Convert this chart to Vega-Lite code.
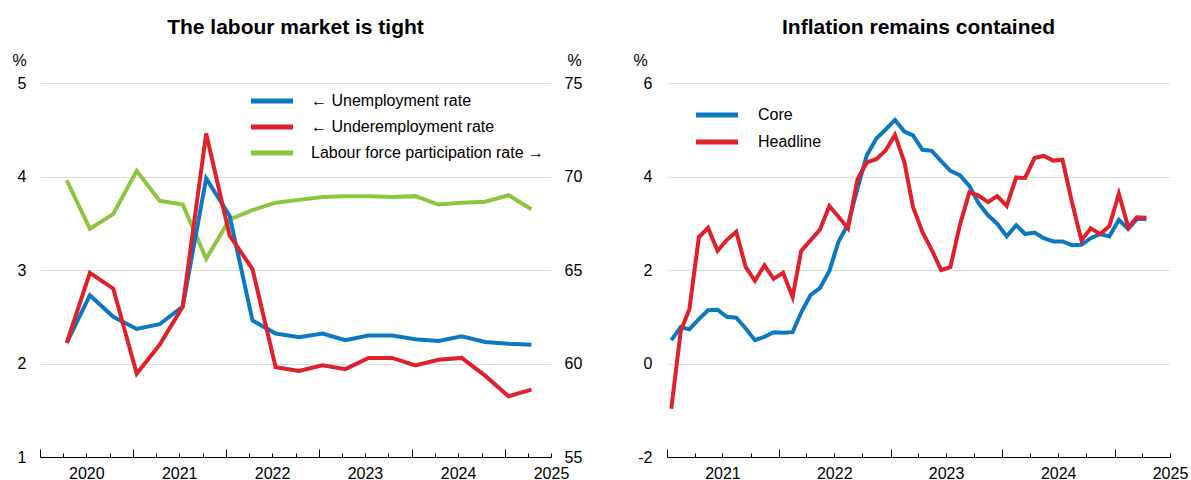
{
  "$schema": "https://vega.github.io/schema/vega-lite/v6.json",
  "background": "white",
  "padding": {"left": 11, "top": 17, "right": 0, "bottom": 0},
  "config": {
    "view": {"stroke": null},
    "font": "Liberation Sans",
    "axis": {"labelFont": "Liberation Sans", "labelFontSize": 16, "labelColor": "black", "titleFont": "Liberation Sans", "titleFontSize": 16, "titleFontWeight": "normal", "titleColor": "black"},
    "title": {"font": "Liberation Sans", "fontSize": 21, "fontWeight": "bold", "color": "black", "anchor": "middle", "offset": 14},
    "legend": {"labelFont": "Liberation Sans", "labelFontSize": 16, "labelColor": "black", "labelLimit": 500, "padding": 0, "symbolType": "M-4.2,0L4.2,0", "symbolSize": 100, "symbolStrokeWidth": 5, "title": null}
  },
  "datasets": {
    "labour": [
      {"date": "2020-04-15", "series": "← Unemployment rate", "value": 2.22},
      {"date": "2020-07-15", "series": "← Unemployment rate", "value": 2.73},
      {"date": "2020-10-15", "series": "← Unemployment rate", "value": 2.50},
      {"date": "2021-01-15", "series": "← Unemployment rate", "value": 2.37},
      {"date": "2021-04-15", "series": "← Unemployment rate", "value": 2.42},
      {"date": "2021-07-15", "series": "← Unemployment rate", "value": 2.61},
      {"date": "2021-10-15", "series": "← Unemployment rate", "value": 3.98},
      {"date": "2022-01-15", "series": "← Unemployment rate", "value": 3.58},
      {"date": "2022-04-15", "series": "← Unemployment rate", "value": 2.46},
      {"date": "2022-07-15", "series": "← Unemployment rate", "value": 2.32},
      {"date": "2022-10-15", "series": "← Unemployment rate", "value": 2.28},
      {"date": "2023-01-15", "series": "← Unemployment rate", "value": 2.32},
      {"date": "2023-04-15", "series": "← Unemployment rate", "value": 2.25},
      {"date": "2023-07-15", "series": "← Unemployment rate", "value": 2.30},
      {"date": "2023-10-15", "series": "← Unemployment rate", "value": 2.30},
      {"date": "2024-01-15", "series": "← Unemployment rate", "value": 2.26},
      {"date": "2024-04-15", "series": "← Unemployment rate", "value": 2.24},
      {"date": "2024-07-15", "series": "← Unemployment rate", "value": 2.29},
      {"date": "2024-10-15", "series": "← Unemployment rate", "value": 2.23},
      {"date": "2025-01-15", "series": "← Unemployment rate", "value": 2.21},
      {"date": "2025-04-15", "series": "← Unemployment rate", "value": 2.20},
      {"date": "2020-04-15", "series": "← Underemployment rate", "value": 2.22},
      {"date": "2020-07-15", "series": "← Underemployment rate", "value": 2.97},
      {"date": "2020-10-15", "series": "← Underemployment rate", "value": 2.80},
      {"date": "2021-01-15", "series": "← Underemployment rate", "value": 1.89},
      {"date": "2021-04-15", "series": "← Underemployment rate", "value": 2.20},
      {"date": "2021-07-15", "series": "← Underemployment rate", "value": 2.61},
      {"date": "2021-10-15", "series": "← Underemployment rate", "value": 4.46},
      {"date": "2022-01-15", "series": "← Underemployment rate", "value": 3.37},
      {"date": "2022-04-15", "series": "← Underemployment rate", "value": 3.01},
      {"date": "2022-07-15", "series": "← Underemployment rate", "value": 1.96},
      {"date": "2022-10-15", "series": "← Underemployment rate", "value": 1.92},
      {"date": "2023-01-15", "series": "← Underemployment rate", "value": 1.98},
      {"date": "2023-04-15", "series": "← Underemployment rate", "value": 1.94},
      {"date": "2023-07-15", "series": "← Underemployment rate", "value": 2.06},
      {"date": "2023-10-15", "series": "← Underemployment rate", "value": 2.06},
      {"date": "2024-01-15", "series": "← Underemployment rate", "value": 1.98},
      {"date": "2024-04-15", "series": "← Underemployment rate", "value": 2.04},
      {"date": "2024-07-15", "series": "← Underemployment rate", "value": 2.06},
      {"date": "2024-10-15", "series": "← Underemployment rate", "value": 1.87},
      {"date": "2025-01-15", "series": "← Underemployment rate", "value": 1.65},
      {"date": "2025-04-15", "series": "← Underemployment rate", "value": 1.72},
      {"date": "2020-04-15", "series": "Labour force participation rate →", "value": 69.8},
      {"date": "2020-07-15", "series": "Labour force participation rate →", "value": 67.2},
      {"date": "2020-10-15", "series": "Labour force participation rate →", "value": 68.0},
      {"date": "2021-01-15", "series": "Labour force participation rate →", "value": 70.3},
      {"date": "2021-04-15", "series": "Labour force participation rate →", "value": 68.7},
      {"date": "2021-07-15", "series": "Labour force participation rate →", "value": 68.5},
      {"date": "2021-10-15", "series": "Labour force participation rate →", "value": 65.6},
      {"date": "2022-01-15", "series": "Labour force participation rate →", "value": 67.7},
      {"date": "2022-04-15", "series": "Labour force participation rate →", "value": 68.2},
      {"date": "2022-07-15", "series": "Labour force participation rate →", "value": 68.6},
      {"date": "2022-10-15", "series": "Labour force participation rate →", "value": 68.75},
      {"date": "2023-01-15", "series": "Labour force participation rate →", "value": 68.9},
      {"date": "2023-04-15", "series": "Labour force participation rate →", "value": 68.95},
      {"date": "2023-07-15", "series": "Labour force participation rate →", "value": 68.95},
      {"date": "2023-10-15", "series": "Labour force participation rate →", "value": 68.9},
      {"date": "2024-01-15", "series": "Labour force participation rate →", "value": 68.95},
      {"date": "2024-04-15", "series": "Labour force participation rate →", "value": 68.5},
      {"date": "2024-07-15", "series": "Labour force participation rate →", "value": 68.6},
      {"date": "2024-10-15", "series": "Labour force participation rate →", "value": 68.65},
      {"date": "2025-01-15", "series": "Labour force participation rate →", "value": 69.0},
      {"date": "2025-04-15", "series": "Labour force participation rate →", "value": 68.25}
    ],
    "infl": [
      {"date": "2021-01-15", "series": "Core", "value": 0.50},
      {"date": "2021-02-15", "series": "Core", "value": 0.78},
      {"date": "2021-03-15", "series": "Core", "value": 0.73},
      {"date": "2021-04-15", "series": "Core", "value": 0.95},
      {"date": "2021-05-15", "series": "Core", "value": 1.14},
      {"date": "2021-06-15", "series": "Core", "value": 1.15},
      {"date": "2021-07-15", "series": "Core", "value": 1.00},
      {"date": "2021-08-15", "series": "Core", "value": 0.98},
      {"date": "2021-09-15", "series": "Core", "value": 0.75},
      {"date": "2021-10-15", "series": "Core", "value": 0.50},
      {"date": "2021-11-15", "series": "Core", "value": 0.57},
      {"date": "2021-12-15", "series": "Core", "value": 0.67},
      {"date": "2022-01-15", "series": "Core", "value": 0.66},
      {"date": "2022-02-15", "series": "Core", "value": 0.67},
      {"date": "2022-03-15", "series": "Core", "value": 1.09},
      {"date": "2022-04-15", "series": "Core", "value": 1.47},
      {"date": "2022-05-15", "series": "Core", "value": 1.61},
      {"date": "2022-06-15", "series": "Core", "value": 1.98},
      {"date": "2022-07-15", "series": "Core", "value": 2.61},
      {"date": "2022-08-15", "series": "Core", "value": 2.98},
      {"date": "2022-09-15", "series": "Core", "value": 3.75},
      {"date": "2022-10-15", "series": "Core", "value": 4.45},
      {"date": "2022-11-15", "series": "Core", "value": 4.81},
      {"date": "2022-12-15", "series": "Core", "value": 5.00},
      {"date": "2023-01-15", "series": "Core", "value": 5.21},
      {"date": "2023-02-15", "series": "Core", "value": 4.96},
      {"date": "2023-03-15", "series": "Core", "value": 4.88},
      {"date": "2023-04-15", "series": "Core", "value": 4.57},
      {"date": "2023-05-15", "series": "Core", "value": 4.55},
      {"date": "2023-06-15", "series": "Core", "value": 4.33},
      {"date": "2023-07-15", "series": "Core", "value": 4.12},
      {"date": "2023-08-15", "series": "Core", "value": 4.03},
      {"date": "2023-09-15", "series": "Core", "value": 3.80},
      {"date": "2023-10-15", "series": "Core", "value": 3.43},
      {"date": "2023-11-15", "series": "Core", "value": 3.17},
      {"date": "2023-12-15", "series": "Core", "value": 2.99},
      {"date": "2024-01-15", "series": "Core", "value": 2.72},
      {"date": "2024-02-15", "series": "Core", "value": 2.96},
      {"date": "2024-03-15", "series": "Core", "value": 2.77},
      {"date": "2024-04-15", "series": "Core", "value": 2.80},
      {"date": "2024-05-15", "series": "Core", "value": 2.68},
      {"date": "2024-06-15", "series": "Core", "value": 2.61},
      {"date": "2024-07-15", "series": "Core", "value": 2.61},
      {"date": "2024-08-15", "series": "Core", "value": 2.53},
      {"date": "2024-09-15", "series": "Core", "value": 2.54},
      {"date": "2024-10-15", "series": "Core", "value": 2.68},
      {"date": "2024-11-15", "series": "Core", "value": 2.77},
      {"date": "2024-12-15", "series": "Core", "value": 2.72},
      {"date": "2025-01-15", "series": "Core", "value": 3.07},
      {"date": "2025-02-15", "series": "Core", "value": 2.88},
      {"date": "2025-03-15", "series": "Core", "value": 3.09},
      {"date": "2025-04-15", "series": "Core", "value": 3.09},
      {"date": "2021-01-15", "series": "Headline", "value": -0.97},
      {"date": "2021-02-15", "series": "Headline", "value": 0.70},
      {"date": "2021-03-15", "series": "Headline", "value": 1.16},
      {"date": "2021-04-15", "series": "Headline", "value": 2.70},
      {"date": "2021-05-15", "series": "Headline", "value": 2.90},
      {"date": "2021-06-15", "series": "Headline", "value": 2.41},
      {"date": "2021-07-15", "series": "Headline", "value": 2.64},
      {"date": "2021-08-15", "series": "Headline", "value": 2.82},
      {"date": "2021-09-15", "series": "Headline", "value": 2.06},
      {"date": "2021-10-15", "series": "Headline", "value": 1.77},
      {"date": "2021-11-15", "series": "Headline", "value": 2.10},
      {"date": "2021-12-15", "series": "Headline", "value": 1.81},
      {"date": "2022-01-15", "series": "Headline", "value": 1.94},
      {"date": "2022-02-15", "series": "Headline", "value": 1.42},
      {"date": "2022-03-15", "series": "Headline", "value": 2.41},
      {"date": "2022-04-15", "series": "Headline", "value": 2.64},
      {"date": "2022-05-15", "series": "Headline", "value": 2.86},
      {"date": "2022-06-15", "series": "Headline", "value": 3.37},
      {"date": "2022-07-15", "series": "Headline", "value": 3.14},
      {"date": "2022-08-15", "series": "Headline", "value": 2.89},
      {"date": "2022-09-15", "series": "Headline", "value": 3.94},
      {"date": "2022-10-15", "series": "Headline", "value": 4.30},
      {"date": "2022-11-15", "series": "Headline", "value": 4.37},
      {"date": "2022-12-15", "series": "Headline", "value": 4.55},
      {"date": "2023-01-15", "series": "Headline", "value": 4.89},
      {"date": "2023-02-15", "series": "Headline", "value": 4.31},
      {"date": "2023-03-15", "series": "Headline", "value": 3.35},
      {"date": "2023-04-15", "series": "Headline", "value": 2.81},
      {"date": "2023-05-15", "series": "Headline", "value": 2.43},
      {"date": "2023-06-15", "series": "Headline", "value": 2.00},
      {"date": "2023-07-15", "series": "Headline", "value": 2.06},
      {"date": "2023-08-15", "series": "Headline", "value": 2.96},
      {"date": "2023-09-15", "series": "Headline", "value": 3.66},
      {"date": "2023-10-15", "series": "Headline", "value": 3.59},
      {"date": "2023-11-15", "series": "Headline", "value": 3.45},
      {"date": "2023-12-15", "series": "Headline", "value": 3.58},
      {"date": "2024-01-15", "series": "Headline", "value": 3.37},
      {"date": "2024-02-15", "series": "Headline", "value": 3.98},
      {"date": "2024-03-15", "series": "Headline", "value": 3.97},
      {"date": "2024-04-15", "series": "Headline", "value": 4.40},
      {"date": "2024-05-15", "series": "Headline", "value": 4.44},
      {"date": "2024-06-15", "series": "Headline", "value": 4.34},
      {"date": "2024-07-15", "series": "Headline", "value": 4.36},
      {"date": "2024-08-15", "series": "Headline", "value": 3.45},
      {"date": "2024-09-15", "series": "Headline", "value": 2.63},
      {"date": "2024-10-15", "series": "Headline", "value": 2.89},
      {"date": "2024-11-15", "series": "Headline", "value": 2.77},
      {"date": "2024-12-15", "series": "Headline", "value": 2.94},
      {"date": "2025-01-15", "series": "Headline", "value": 3.63},
      {"date": "2025-02-15", "series": "Headline", "value": 2.91},
      {"date": "2025-03-15", "series": "Headline", "value": 3.13},
      {"date": "2025-04-15", "series": "Headline", "value": 3.12}
    ]
  },
  "spacing": 50,
  "resolve": {"scale": {"color": "independent"}, "legend": {"color": "independent"}},
  "hconcat": [
    {
      "title": "The labour market is tight",
      "width": 511,
      "height": 374,
      "data": {"name": "labour"},
      "encoding": {
        "x": {
          "field": "date", "type": "temporal", "title": null,
          "scale": {"type": "utc", "domain": [{"year": 2020, "month": 1, "date": 1, "utc": true}, {"year": 2025, "month": 7, "date": 1, "utc": true}]},
          "axis": {
            "values": [
              {"year": 2020, "month": 1, "date": 1, "utc": true}, {"year": 2020, "month": 4, "date": 1, "utc": true}, {"year": 2020, "month": 7, "date": 1, "utc": true}, {"year": 2020, "month": 10, "date": 1, "utc": true},
              {"year": 2021, "month": 1, "date": 1, "utc": true}, {"year": 2021, "month": 4, "date": 1, "utc": true}, {"year": 2021, "month": 7, "date": 1, "utc": true}, {"year": 2021, "month": 10, "date": 1, "utc": true},
              {"year": 2022, "month": 1, "date": 1, "utc": true}, {"year": 2022, "month": 4, "date": 1, "utc": true}, {"year": 2022, "month": 7, "date": 1, "utc": true}, {"year": 2022, "month": 10, "date": 1, "utc": true},
              {"year": 2023, "month": 1, "date": 1, "utc": true}, {"year": 2023, "month": 4, "date": 1, "utc": true}, {"year": 2023, "month": 7, "date": 1, "utc": true}, {"year": 2023, "month": 10, "date": 1, "utc": true},
              {"year": 2024, "month": 1, "date": 1, "utc": true}, {"year": 2024, "month": 4, "date": 1, "utc": true}, {"year": 2024, "month": 7, "date": 1, "utc": true}, {"year": 2024, "month": 10, "date": 1, "utc": true},
              {"year": 2025, "month": 1, "date": 1, "utc": true}, {"year": 2025, "month": 4, "date": 1, "utc": true}, {"year": 2025, "month": 7, "date": 1, "utc": true}
            ],
            "labelExpr": "utcmonth(datum.value) === 6 ? '' + utcyear(datum.value) : ''",
            "labelOverlap": false, "labelFlush": false, "labelBound": false,
            "domainColor": "black", "domainWidth": 1, "ticks": false, "labelPadding": 8,
            "grid": true, "gridColor": "black", "gridWidth": 1, "gridOpacity": 1,
            "gridDash": {"condition": {"test": "utcmonth(datum.value) === 0", "value": [0, 366, 8, 1000]}, "value": [0, 370, 4, 1000]}
          }
        },
        "color": {
          "field": "series", "type": "nominal",
          "scale": {"domain": ["← Unemployment rate", "← Underemployment rate", "Labour force participation rate →"], "range": ["#0B78C1", "#E0202A", "#8CC63E"]},
          "legend": {"orient": "none", "legendX": 224, "legendY": 10, "labelOffset": 31, "rowPadding": 6}
        }
      },
      "layer": [
        {
          "transform": [{"filter": {"field": "series", "equal": "Labour force participation rate →"}}],
          "mark": {"type": "line", "strokeWidth": 4},
          "encoding": {
            "y": {
              "field": "value", "type": "quantitative",
              "scale": {"domain": [55, 75], "nice": false, "zero": false},
              "axis": {"orient": "right", "values": [55, 60, 65, 70, 75], "grid": false, "domain": false, "ticks": false, "tickSize": 0, "labelPadding": 13, "title": "%", "titleAngle": 0, "titleAlign": "center", "titleBaseline": "middle", "titleX": 23, "titleY": -23}
            }
          }
        },
        {
          "transform": [{"filter": {"field": "series", "oneOf": ["← Unemployment rate", "← Underemployment rate"]}}],
          "mark": {"type": "line", "strokeWidth": 4},
          "encoding": {
            "y": {
              "field": "value", "type": "quantitative",
              "scale": {"domain": [1, 5], "nice": false, "zero": false},
              "axis": {"orient": "left", "values": [1, 2, 3, 4, 5], "grid": true, "gridColor": "#dedede", "gridWidth": 1, "domain": false, "ticks": false, "tickSize": 0, "labelPadding": 14, "title": "%", "titleAngle": 0, "titleAlign": "center", "titleBaseline": "middle", "titleX": -21, "titleY": -23}
            }
          }
        }
      ],
      "resolve": {"scale": {"y": "independent"}}
    },
    {
      "title": "Inflation remains contained",
      "width": 503,
      "height": 374,
      "data": {"name": "infl"},
      "mark": {"type": "line", "strokeWidth": 4},
      "encoding": {
        "x": {
          "field": "date", "type": "temporal", "title": null,
          "scale": {"type": "utc", "domain": [{"year": 2021, "month": 1, "date": 1, "utc": true}, {"year": 2025, "month": 7, "date": 1, "utc": true}]},
          "axis": {
            "values": [
              {"year": 2021, "month": 1, "date": 1, "utc": true}, {"year": 2021, "month": 4, "date": 1, "utc": true}, {"year": 2021, "month": 7, "date": 1, "utc": true}, {"year": 2021, "month": 10, "date": 1, "utc": true},
              {"year": 2022, "month": 1, "date": 1, "utc": true}, {"year": 2022, "month": 4, "date": 1, "utc": true}, {"year": 2022, "month": 7, "date": 1, "utc": true}, {"year": 2022, "month": 10, "date": 1, "utc": true},
              {"year": 2023, "month": 1, "date": 1, "utc": true}, {"year": 2023, "month": 4, "date": 1, "utc": true}, {"year": 2023, "month": 7, "date": 1, "utc": true}, {"year": 2023, "month": 10, "date": 1, "utc": true},
              {"year": 2024, "month": 1, "date": 1, "utc": true}, {"year": 2024, "month": 4, "date": 1, "utc": true}, {"year": 2024, "month": 7, "date": 1, "utc": true}, {"year": 2024, "month": 10, "date": 1, "utc": true},
              {"year": 2025, "month": 1, "date": 1, "utc": true}, {"year": 2025, "month": 4, "date": 1, "utc": true}, {"year": 2025, "month": 7, "date": 1, "utc": true}
            ],
            "labelExpr": "utcmonth(datum.value) === 6 ? '' + utcyear(datum.value) : ''",
            "labelOverlap": false, "labelFlush": false, "labelBound": false,
            "domainColor": "black", "domainWidth": 1, "ticks": false, "labelPadding": 8,
            "grid": true, "gridColor": "black", "gridWidth": 1, "gridOpacity": 1,
            "gridDash": {"condition": {"test": "utcmonth(datum.value) === 0", "value": [0, 366, 8, 1000]}, "value": [0, 370, 4, 1000]}
          }
        },
        "y": {
          "field": "value", "type": "quantitative",
          "scale": {"domain": [-2, 6], "nice": false, "zero": false},
          "axis": {"values": [-2, 0, 2, 4, 6], "labelExpr": "datum.value < 0 ? '-' + abs(datum.value) : datum.label", "grid": true, "gridColor": "#dedede", "gridWidth": 1, "domain": false, "ticks": false, "tickSize": 0, "labelPadding": 15, "title": "%", "titleAngle": 0, "titleAlign": "center", "titleBaseline": "middle", "titleX": -27, "titleY": -23}
        },
        "color": {
          "field": "series", "type": "nominal",
          "scale": {"domain": ["Core", "Headline"], "range": ["#0B78C1", "#E0202A"]},
          "legend": {"orient": "none", "legendX": 42, "legendY": 24, "labelOffset": 33, "rowPadding": 7}
        }
      }
    }
  ]
}
